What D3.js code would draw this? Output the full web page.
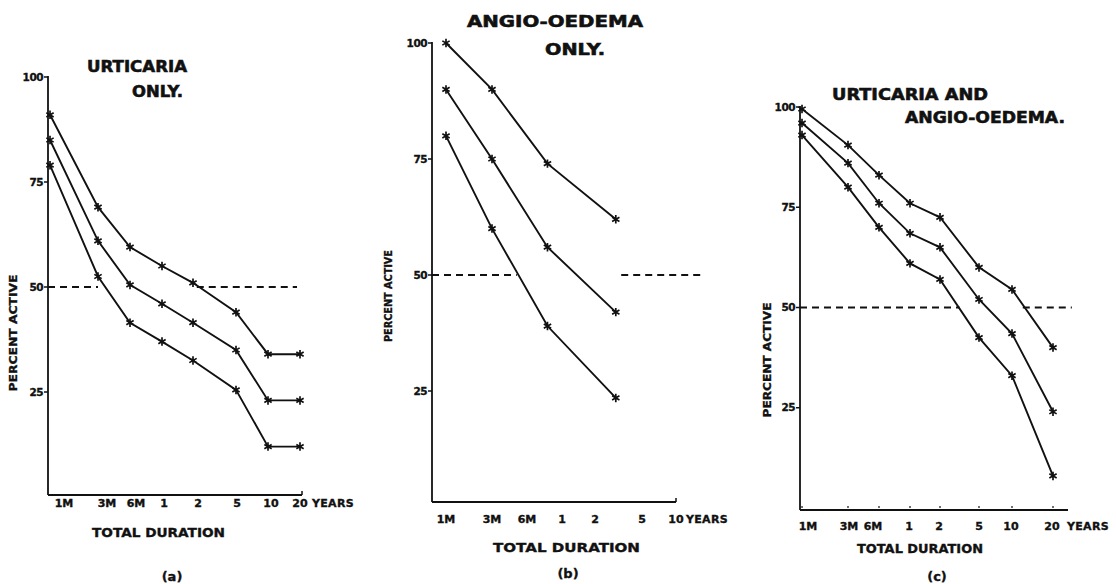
<!DOCTYPE html>
<html>
<head>
<meta charset="utf-8">
<script src="https://cdn.jsdelivr.net/npm/d3@7"></script>
<style>
  body { margin: 0; background: #fff; }
  svg { display: block; font-family: "DejaVu Sans", sans-serif; font-weight: bold; }
  svg text { stroke: #111; stroke-width: 0.35px; }
</style>
</head>
<body>
<div id="chart"></div>
<script>
  // shared axis ticks
  const durationLabels = ["1M", "3M", "6M", "1", "2", "5", "10", "20"];
  const durationMonths = [1, 3, 6, 12, 24, 60, 120, 240];
  const percentTicks = [25, 50, 75, 100];

  // (a) urticaria only
  const urticariaMonths = [1, 3, 6, 12, 24, 60, 120, 240];
  const urticariaUpper = [91, 69, 59.5, 55, 51, 44, 34, 34];
  const urticariaMiddle = [85, 61, 50.5, 46, 41.5, 35, 23, 23];
  const urticariaLower = [79, 52.5, 41.5, 37, 32.5, 25.5, 12, 12];
  const urticariaDashes = [[null, 3], [26, 225]];

  // (b) angio-oedema only
  const angioMonths = [1, 3, 9, 36];
  const angioUpper = [100, 90, 74, 62];
  const angioMiddle = [90, 75, 56, 42];
  const angioLower = [80, 60, 39, 23.5];
  const angioDashes = [[null, 4.9], [40, 217]];

  // (c) urticaria and angio-oedema
  const bothMonths = [1, 3, 6, 12, 24, 60, 120, 240];
  const bothUpper = [99.5, 90.5, 83, 76, 72.5, 60, 54.5, 40];
  const bothMiddle = [96, 86, 76, 68.5, 65, 52, 43.5, 24];
  const bothLower = [93, 80, 70, 61, 57, 42.5, 33, 8];
  const bothDashes = [[null, 38], [144, 330]];

  const panels = [
    {
      title: [{ text: "URTICARIA", x: 87, y: 72, w: 100 }, { text: "ONLY.", x: 132, y: 97, w: 51 }],
      months: urticariaMonths,
      series: [urticariaUpper, urticariaMiddle, urticariaLower],
      dashes: urticariaDashes,
      nTicks: 8,
      tickX: [50, 98, 130, 162, 193, 236, 268, 300],
      labelDx: [14, 9, 6, 2, 5, 1, 3, 0],
      axisX: 48, axisEnd: 302, baseY: 495, y0: 497, y100: 77,
      labelY: 507, yearsX: 312, endTick: true,
      yTitle: { x: 13, y: 333, w: 117 },
      xTitle: { x: 92, y: 537, w: 133 },
      tag: { text: "(a)", x: 172, y: 581 },
    },
    {
      title: [{ text: "ANGIO-OEDEMA", x: 467, y: 27, w: 176 }, { text: "ONLY.", x: 545, y: 55, w: 60 }],
      months: angioMonths,
      series: [angioUpper, angioMiddle, angioLower],
      dashes: angioDashes,
      nTicks: 7,
      tickX: [446, 492, 527, 562, 595, 642, 676],
      labelDx: [0, 0, 0, 0, 0, 0, 0],
      axisX: 432, axisEnd: 676, baseY: 502, y0: 507, y100: 43,
      labelY: 523, yearsX: 686, endTick: true,
      yTitle: { x: 388, y: 296, w: 92 },
      xTitle: { x: 493, y: 552, w: 147 },
      tag: { text: "(b)", x: 568, y: 578 },
    },
    {
      title: [{ text: "URTICARIA  AND", x: 832, y: 100, w: 156 }, { text: "ANGIO-OEDEMA.", x: 905, y: 123, w: 160 }],
      months: bothMonths,
      series: [bothUpper, bothMiddle, bothLower],
      dashes: bothDashes,
      nTicks: 8,
      tickX: [802, 848, 879, 910, 940, 979, 1012, 1053],
      labelDx: [6, 1, -6, -1, -1, 0, -1, -1],
      axisX: 800, axisEnd: 1068, baseY: 510, y0: 508, y100: 107,
      labelY: 530, yearsX: 1067, endTick: false,
      yTitle: { x: 767, y: 360, w: 115 },
      xTitle: { x: 857, y: 553, w: 126 },
      tag: { text: "(c)", x: 937, y: 581 },
    },
  ];

  const ink = "#111";

  const svg = d3
    .select("#chart")
    .append("svg")
    .attr("width", 1116)
    .attr("height", 584)
    .style("background", "#fff");

  /**
   * draws one of the three small charts
   * @param {Object} p
   */
  const drawPanel = (p) => {
    const ticks = durationMonths.slice(0, p.nTicks);
    const labels = durationLabels.slice(0, p.nTicks);
    // hand drawn axis, so the log scale is piecewise between ticks
    const x = d3.scaleLog().domain(ticks).range(p.tickX);
    const y = d3.scaleLinear().domain([0, 100]).range([p.y0, p.y100]);
    const g = svg.append("g");

    // titles
    p.title.forEach((t) => {
      g.append("text")
        .attr("x", t.x)
        .attr("y", t.y)
        .attr("textLength", t.w)
        .attr("lengthAdjust", "spacingAndGlyphs")
        .style("font-size", "16px")
        .style("stroke-width", "0.6px")
        .attr("fill", ink)
        .text(t.text);
    });

    // y axis
    g.append("line")
      .attr("x1", p.axisX)
      .attr("x2", p.axisX)
      .attr("y1", y(100) - 1)
      .attr("y2", p.baseY)
      .attr("stroke", ink)
      .attr("stroke-width", 1.8);

    g.selectAll(".ytick")
      .data(percentTicks)
      .enter()
      .append("line")
      .attr("x1", p.axisX - 4)
      .attr("x2", p.axisX)
      .attr("y1", (d) => y(d))
      .attr("y2", (d) => y(d))
      .attr("stroke", ink)
      .attr("stroke-width", 1.5);

    g.selectAll(".ylabel")
      .data(percentTicks)
      .enter()
      .append("text")
      .attr("x", p.axisX - 5)
      .attr("y", (d) => y(d))
      .attr("dy", "0.35em")
      .attr("text-anchor", "end")
      .style("font-size", "10.5px")
      .style("letter-spacing", "-0.5px")
      .attr("fill", ink)
      .text((d) => d);

    g.append("text")
      .attr("transform", `translate(${p.yTitle.x},${p.yTitle.y}) rotate(-90)`)
      .attr("text-anchor", "middle")
      .attr("dy", "0.35em")
      .attr("textLength", p.yTitle.w)
      .attr("lengthAdjust", "spacingAndGlyphs")
      .style("font-size", "10px")
      .attr("fill", ink)
      .text("PERCENT   ACTIVE");

    // x axis
    g.append("line")
      .attr("x1", p.axisX)
      .attr("x2", p.axisEnd)
      .attr("y1", p.baseY)
      .attr("y2", p.baseY)
      .attr("stroke", ink)
      .attr("stroke-width", 2);

    if (p.endTick) {
      g.append("line")
        .attr("x1", p.axisEnd)
        .attr("x2", p.axisEnd)
        .attr("y1", p.baseY)
        .attr("y2", p.baseY - 4)
        .attr("stroke", ink)
        .attr("stroke-width", 1.5);
    } else {
      g.selectAll(".xtick")
        .data(ticks)
        .enter()
        .append("line")
        .attr("x1", (d) => x(d))
        .attr("x2", (d) => x(d))
        .attr("y1", p.baseY - 2)
        .attr("y2", p.baseY - 4)
        .attr("stroke", ink)
        .attr("stroke-width", 1.2);
    }

    g.selectAll(".xlabel")
      .data(labels)
      .enter()
      .append("text")
      .attr("x", (d, i) => x(ticks[i]) + p.labelDx[i])
      .attr("y", p.labelY)
      .attr("text-anchor", "middle")
      .style("font-size", "11px")
      .attr("fill", ink)
      .text((d) => d);

    g.append("text")
      .attr("x", p.yearsX)
      .attr("y", p.labelY)
      .style("font-size", "11px")
      .style("letter-spacing", "0.3px")
      .attr("fill", ink)
      .text("YEARS");

    g.append("text")
      .attr("x", p.xTitle.x)
      .attr("y", p.xTitle.y)
      .attr("textLength", p.xTitle.w)
      .attr("lengthAdjust", "spacingAndGlyphs")
      .style("font-size", "12px")
      .attr("fill", ink)
      .text("TOTAL   DURATION");

    g.append("text")
      .attr("x", p.tag.x)
      .attr("y", p.tag.y)
      .attr("text-anchor", "middle")
      .style("font-size", "13px")
      .attr("fill", ink)
      .text(p.tag.text);

    // dashed 50% line
    g.selectAll(".dash")
      .data(p.dashes)
      .enter()
      .append("line")
      .attr("x1", (d) => (d[0] === null ? p.axisX : x(d[0])))
      .attr("x2", (d) => x(d[1]))
      .attr("y1", y(50))
      .attr("y2", y(50))
      .attr("stroke", ink)
      .attr("stroke-width", 1.8)
      .attr("stroke-dasharray", "7,5");

    // the three curves
    const line = d3
      .line()
      .x((d) => x(d.month))
      .y((d) => y(d.value));

    p.series.forEach((values) => {
      const data = values.map((v, i) => ({ month: p.months[i], value: v }));
      g.append("path")
        .datum(data)
        .attr("fill", "none")
        .attr("stroke", ink)
        .attr("stroke-width", 1.9)
        .attr("d", line);

      g.selectAll(null)
        .data(data)
        .enter()
        .append("path")
        .attr("transform", (d) => `translate(${x(d.month)},${y(d.value)})`)
        .attr("d", d3.symbol().type(d3.symbolAsterisk).size(50))
        .attr("fill", "none")
        .attr("stroke", ink)
        .attr("stroke-width", 1.7);
    });
  };

  panels.forEach(drawPanel);
</script>
</body>
</html>
